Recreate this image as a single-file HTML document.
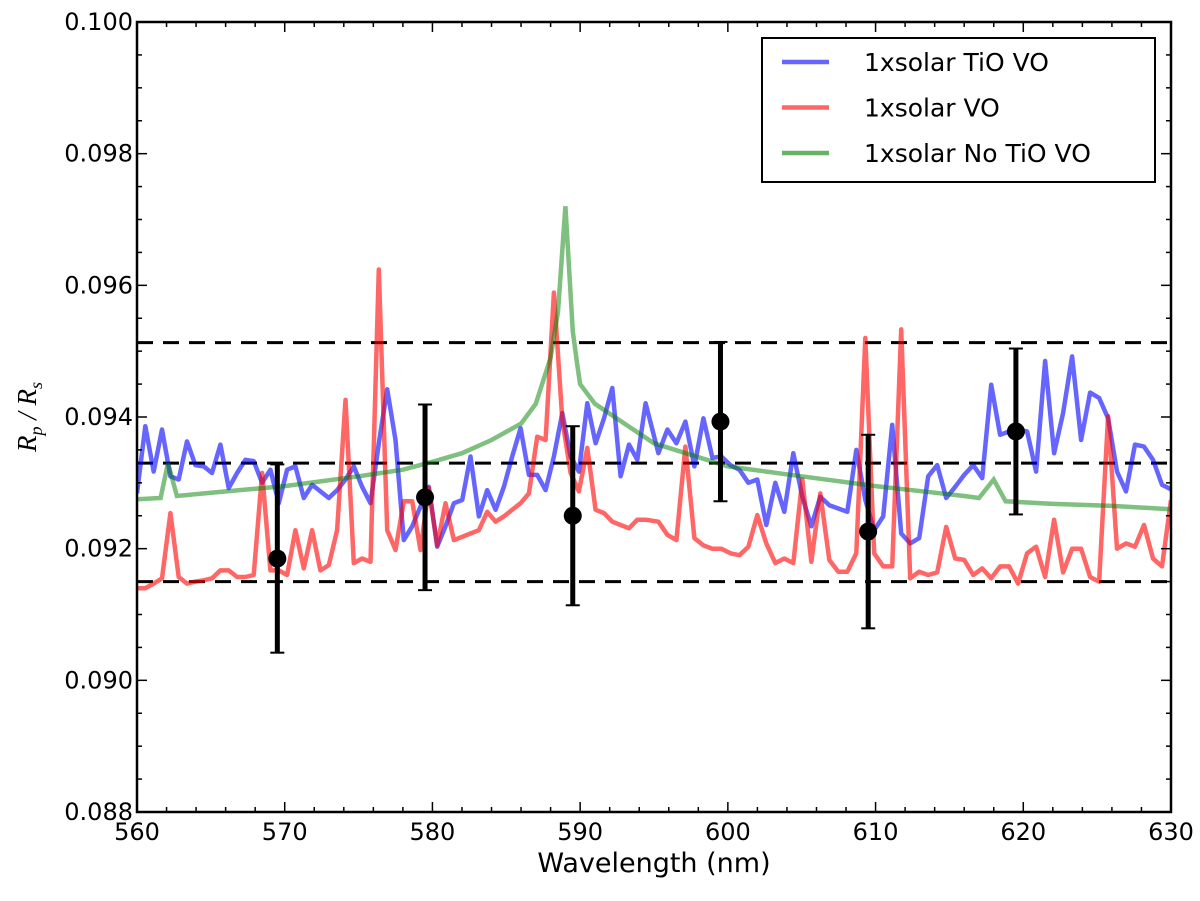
<!DOCTYPE html>
<html><head><meta charset="utf-8"><style>
body{margin:0;background:#fff}
svg text{font-family:"DejaVu Sans","Liberation Sans",sans-serif;fill:#000}
</style></head><body>
<svg id="chart" width="1200" height="896" xmlns="http://www.w3.org/2000/svg"></svg>
<script>
const blueA=[92.84,93.86,93.17,93.81,93.10,93.05,93.63,93.27,93.25,93.15,93.58,92.92,93.15,93.35,93.33,93.00,93.20,92.69,93.20,93.25,92.77,92.97,92.87,92.77,92.89,93.05,93.25,92.94,92.69,93.60,94.42,93.65,92.13,92.34,92.64,92.94,92.03,92.34,92.69,92.74,93.40,92.49,92.89,92.59,92.94,93.40,93.83,93.12,93.12,92.89,93.40,94.06,93.40,93.17,94.21,93.60,93.98,94.44,93.10,93.58,93.35,94.21];
const blueB=[93.45,93.81,93.60,93.93,93.25,93.98,93.38,93.40,93.27,93.20,93.00,93.05,92.36,93.00,92.56,93.45,92.79,92.34,92.79,92.66,92.61,92.56,93.50,92.74,92.28,92.49,93.88,92.23,92.08,92.16,93.10,93.27,92.77,92.94,93.12,93.27,93.07,94.49,93.73,93.78,93.81,93.78,93.17,94.85,93.45,94.06,94.92,93.65,94.37,94.29,93.98,93.17,92.87,93.58,93.55,93.35,92.97,92.90];
const redA=[91.40,91.40,91.47,91.55,92.54,91.57,91.47,91.50,91.52,91.55,91.67,91.67,91.57,91.57,91.60,93.15,91.67,91.67,91.60,92.28,91.70,92.28,91.67,91.75,92.28,94.26,91.78,91.85,91.80,96.24,92.28,91.98,92.72,92.72,91.98,92.92,92.05,92.69,92.13,92.18,92.23,92.28,92.56,92.41,92.49,92.59,92.69,92.84,93.70,93.65,95.89,93.96,93.15,92.87,93.53,92.59,92.54,92.41,92.36,92.31,92.44,92.44];
const redB=[92.41,92.21,92.13,93.55,92.16,92.05,92.00,92.00,91.93,91.90,92.03,92.51,92.08,91.78,91.85,91.78,93.05,91.80,92.84,91.83,91.65,91.65,91.93,95.20,91.93,91.73,91.73,95.33,91.55,91.65,91.60,91.64,92.33,91.85,91.83,91.60,91.70,91.55,91.73,91.73,91.47,91.93,92.03,91.57,92.44,91.64,92.00,92.00,91.57,91.50,94.01,92.00,92.08,92.03,92.36,91.85,91.73,92.74];
const greenX=[560,561.6,562.1,562.7,565,570,575,578,580,582,584,586,587,588,588.5,589,589.5,589.8,590,591,593,595,600,605,610,614,616,617,618,618.8,622,626,630];
const greenY=[92.75,92.77,93.30,92.80,92.85,92.95,93.10,93.20,93.32,93.45,93.65,93.90,94.20,94.90,95.60,97.20,95.30,94.80,94.50,94.20,93.90,93.60,93.25,93.10,92.95,92.85,92.80,92.77,93.05,92.72,92.68,92.65,92.60];
const obsX=[569.5,579.5,589.5,599.5,609.5,619.5];
const obsY=[0.09185,0.09278,0.0925,0.09393,0.09226,0.09378];
const obsErr=[0.00143,0.00141,0.00136,0.00121,0.00147,0.00126];
const hLines=[0.09513,0.0933,0.0915];
const xTicks=[560,570,580,590,600,610,620,630];
const yTicks=[0.088,0.090,0.092,0.094,0.096,0.098,0.100];

const L=137,R=1171,T=22,B=812;
const sx=v=>L+(v-560)/70*(R-L);
const sy=v=>B-(v-0.088)/0.012*(B-T);
const NS='http://www.w3.org/2000/svg';
const svg=document.getElementById('chart');
function mk(tag,attrs,parent){const e=document.createElementNS(NS,tag);for(const k in attrs)e.setAttribute(k,attrs[k]);(parent||svg).appendChild(e);return e;}
function wlA(i){return 560+i*0.5645;}
function wlB(i){return 595.3+i*(34.7/(blueB.length-1));}
function pathFrom(xs,ys){return xs.map((x,i)=>(i?'L':'M')+sx(x).toFixed(1)+','+sy(ys[i]).toFixed(1)).join(' ');}
const clip=mk('clipPath',{id:'pc'});mk('rect',{x:L,y:T,width:R-L,height:B-T},clip);
const g=mk('g',{'clip-path':'url(#pc)'});
hLines.forEach(v=>{const l=mk('line',{x1:L,x2:R,y1:sy(v),y2:sy(v),stroke:'#000','stroke-width':3,'stroke-dasharray':'16,10'},g);

});
function series(a,b,col,name){
 const xs=a.map((_,i)=>wlA(i)).concat(b.map((_,i)=>wlB(i)));
 const ys=a.concat(b).map(v=>v/1000);
 const p=mk('path',{d:pathFrom(xs,ys),fill:'none',stroke:col,'stroke-width':4.5,'stroke-opacity':0.6,'stroke-linejoin':'round'},g);
 
 
}
series(blueA,blueB,'#0000ff','series-tio-vo');
series(redA,redB,'#ff0000','series-vo');
const gp=mk('path',{d:pathFrom(greenX,greenY.map(v=>v/1000)),fill:'none',stroke:'#008000','stroke-width':4.5,'stroke-opacity':0.5},g);


obsX.forEach((x,i)=>{
 const e=mk('line',{x1:sx(x),x2:sx(x),y1:sy(obsY[i]-obsErr[i]),y2:sy(obsY[i]+obsErr[i]),stroke:'#000','stroke-width':5},g);
 
 
 [obsY[i]-obsErr[i],obsY[i]+obsErr[i]].forEach(v=>mk('line',{x1:sx(x)-7,x2:sx(x)+7,y1:sy(v),y2:sy(v),stroke:'#000','stroke-width':2},g));
 const c=mk('circle',{cx:sx(x),cy:sy(obsY[i]),r:9,fill:'#000'},g);
 
 
});
for(let v=560;v<=630;v+=2){const major=(v%10===0);const x=sx(v);const len=major?10:5;
 mk('line',{x1:x,x2:x,y1:B,y2:B-len,stroke:'#000','stroke-width':1.5});
 mk('line',{x1:x,x2:x,y1:T,y2:T+len,stroke:'#000','stroke-width':1.5});}
for(let k=0;k<=24;k++){const v=0.088+k*0.0005;const major=(k%4===0);const y=sy(v);const len=major?10:5;
 mk('line',{x1:L,x2:L+len,y1:y,y2:y,stroke:'#000','stroke-width':1.5});
 mk('line',{x1:R,x2:R-len,y1:y,y2:y,stroke:'#000','stroke-width':1.5});}
xTicks.forEach(v=>{const t=mk('text',{x:sx(v),y:B+28,'text-anchor':'middle','font-size':24});t.textContent=v;
 
 });
yTicks.forEach(v=>{const t=mk('text',{x:L-4,y:sy(v)+8,'text-anchor':'end','font-size':24});t.textContent=v.toFixed(3);
 
 });
const frame=mk('rect',{x:L,y:T,width:R-L,height:B-T,fill:'none',stroke:'#000','stroke-width':2.5});


const xt=mk('text',{x:(L+R)/2,y:872,'text-anchor':'middle','font-size':27});xt.textContent='Wavelength (nm)';


const yt=mk('text',{x:0,y:0,'text-anchor':'middle','font-size':27,transform:'translate(36,417) rotate(-90)',style:'font-family:"Liberation Serif",serif;font-style:italic'});
yt.innerHTML='R<tspan font-size="18" dy="6">p</tspan><tspan dy="-6"> / R</tspan><tspan font-size="18" dy="6">s</tspan>';


const lg=mk('g',{});


mk('rect',{x:762,y:38,width:393,height:144,fill:'#fff',stroke:'#000','stroke-width':2},lg);
const labels=['1xsolar TiO VO','1xsolar VO','1xsolar No TiO VO'];
const cols=['#0000ff','#ff0000','#008000'];
labels.forEach((s,i)=>{const y=62+i*45.5;
 mk('line',{x1:782,x2:829,y1:y,y2:y,stroke:cols[i],'stroke-width':4.5,'stroke-opacity':0.6},lg);
 const t=mk('text',{x:864,y:y+9,'font-size':25},lg);t.textContent=s;
 
 });
</script>
</body></html>
